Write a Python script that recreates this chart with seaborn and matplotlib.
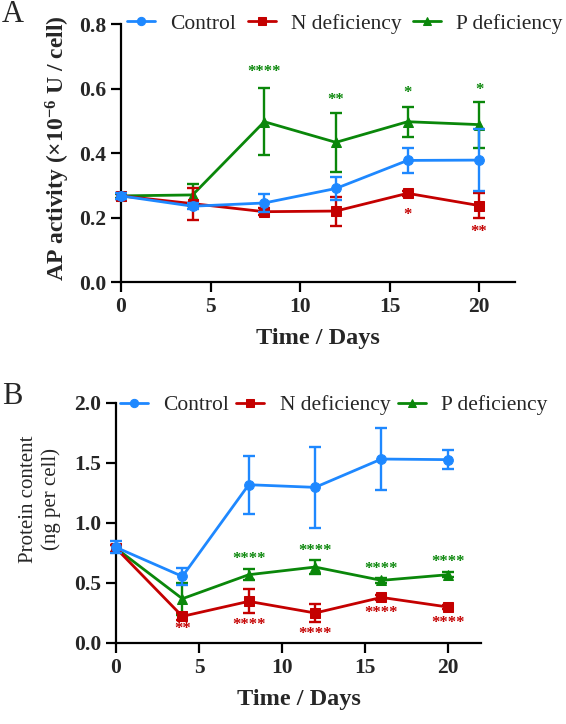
import numpy as np
import seaborn as sns
import matplotlib.pyplot as plt

days = [0, 4, 8, 12, 16, 20]
series = ["Control", "N deficiency", "P deficiency"]

# panel A: AP activity
ap_control = [0.267, 0.235, 0.245, 0.290, 0.377, 0.378]
ap_control_err = [0.010, 0.010, 0.028, 0.037, 0.040, 0.096]
ap_n = [0.267, 0.243, 0.218, 0.220, 0.275, 0.237]
ap_n_err = [0.010, 0.050, 0.010, 0.045, 0.008, 0.040]
ap_p = [0.267, 0.270, 0.497, 0.433, 0.497, 0.488]
ap_p_err = [0.005, 0.035, 0.104, 0.092, 0.046, 0.071]

# panel B: protein content
pr_control = [0.797, 0.555, 1.319, 1.297, 1.533, 1.528]
pr_control_err = [0.050, 0.070, 0.240, 0.340, 0.260, 0.080]
pr_n = [0.790, 0.222, 0.347, 0.250, 0.380, 0.300]
pr_n_err = [0.030, 0.030, 0.100, 0.075, 0.020, 0.020]
pr_p = [0.790, 0.369, 0.569, 0.633, 0.522, 0.569]
pr_p_err = [0.030, 0.135, 0.045, 0.060, 0.020, 0.020]

# significance marks: (day, y, text)
ap_stars_p = [(8, 0.651, "****"), (12, 0.564, "**"), (16, 0.585, "*"), (20, 0.595, "*")]
ap_stars_n = [(16, 0.207, "*"), (20, 0.156, "**")]
pr_stars_p = [(8, 0.700, "****"), (12, 0.763, "****"), (16, 0.620, "****"), (20, 0.677, "****")]
pr_stars_n = [(4, 0.120, "**"), (8, 0.153, "****"), (12, 0.078, "****"), (16, 0.250, "****"), (20, 0.170, "****")]

colors = {"Control": "#1E88FF", "N deficiency": "#C40000", "P deficiency": "#0A870A"}
markers = {"Control": "o", "N deficiency": "s", "P deficiency": "^"}
msizes = {"Control": 7, "N deficiency": 7.5, "P deficiency": 7.5}
zorders = {"Control": 5, "N deficiency": 4, "P deficiency": 3}

sns.set_theme(style="ticks")
plt.rcParams["font.family"] = ["Liberation Serif", "DejaVu Serif"]
plt.rcParams["mathtext.fontset"] = "custom"
plt.rcParams["mathtext.rm"] = "Liberation Serif"
plt.rcParams["mathtext.bf"] = "Liberation Serif:bold"
plt.rcParams["mathtext.default"] = "bf"

W, H = 566, 724
fig = plt.figure(figsize=(W / 100, H / 100), dpi=100)


def axes_px(left, top, right, bottom):
    return fig.add_axes([left / W, 1 - bottom / H, (right - left) / W, (bottom - top) / H])


def draw_panel(ax, vals, errs, stars_p, stars_n):
    for name in ["P deficiency", "N deficiency", "Control"]:
        c = colors[name]
        ax.errorbar(days, vals[name], yerr=errs[name], fmt="none", ecolor=c,
                    elinewidth=1.7, capsize=4, capthick=1.7, zorder=zorders[name], clip_on=False)
        sns.lineplot(x=days, y=vals[name], ax=ax, color=c, marker=markers[name],
                     markersize=msizes[name], markeredgecolor=c, linewidth=2.0,
                     label=name, zorder=zorders[name] + 0.5, clip_on=False)
    for d, y, t in stars_p:
        ax.text(d, y, t, color=colors["P deficiency"], fontsize=12, fontweight="bold",
                ha="center", va="center")
    for d, y, t in stars_n:
        ax.text(d, y, t, color=colors["N deficiency"], fontsize=12, fontweight="bold",
                ha="center", va="center")
    ax.set_xlim(0, 22)
    ax.set_xticks([0, 5, 10, 15, 20])
    sns.despine(ax=ax)
    for s in ["left", "bottom"]:
        ax.spines[s].set_linewidth(1.6)
        ax.spines[s].set_color("black")
    ax.tick_params(width=1.6, length=7, labelsize=15.5, direction="out", color="black")
    for lab in ax.get_xticklabels() + ax.get_yticklabels():
        lab.set_fontweight("bold")
    ax.set_xlabel("Time / Days", fontsize=17.5, fontweight="bold", labelpad=8)
    ax.legend_.remove()


# ---- panel A
axA = axes_px(121, 24, 515, 282)
draw_panel(axA,
           {"Control": ap_control, "N deficiency": ap_n, "P deficiency": ap_p},
           {"Control": ap_control_err, "N deficiency": ap_n_err, "P deficiency": ap_p_err},
           ap_stars_p, ap_stars_n)
axA.set_ylim(0, 0.8)
axA.set_yticks([0.0, 0.2, 0.4, 0.6, 0.8])
axA.set_yticklabels(["0.0", "0.2", "0.4", "0.6", "0.8"], fontweight="bold")
axA.set_ylabel("AP activity (×10$^{-6}$ U / cell)", fontsize=17, fontweight="bold")
axA.yaxis.set_label_coords(-0.125, 0.52)

# ---- panel B
axB = axes_px(116, 403, 481, 643)
draw_panel(axB,
           {"Control": pr_control, "N deficiency": pr_n, "P deficiency": pr_p},
           {"Control": pr_control_err, "N deficiency": pr_n_err, "P deficiency": pr_p_err},
           pr_stars_p, pr_stars_n)
axB.set_ylim(0, 2.0)
axB.set_yticks([0.0, 0.5, 1.0, 1.5, 2.0])
axB.set_yticklabels(["0.0", "0.5", "1.0", "1.5", "2.0"], fontweight="bold")
axB.set_ylabel("Protein content\n(ng per cell)", fontsize=15, linespacing=1.25)
axB.yaxis.set_label_coords(-0.15, 0.6)

# legends
for ax, x0, y0, colsp, fs in [(axA, 127, 24, 0.55, 15.5), (axB, 120, 405, 0.35, 15.5)]:
    handles, labels = ax.get_legend_handles_labels()
    order = [labels.index(s) for s in series]
    fig.legend([handles[i] for i in order], series, loc="center left",
               bbox_to_anchor=(x0 / W, 1 - y0 / H), ncol=3, frameon=False,
               fontsize=fs, handlelength=1.3, handletextpad=0.7,
               columnspacing=colsp, borderpad=0, borderaxespad=0, markerscale=0.85)

fig.text(2 / W, 1 - 15 / H, "A", fontsize=22, ha="left", va="center")
fig.text(2 / W, 1 - 396 / H, "B", fontsize=22, ha="left", va="center")

fig.savefig("out.png", dpi=100)
